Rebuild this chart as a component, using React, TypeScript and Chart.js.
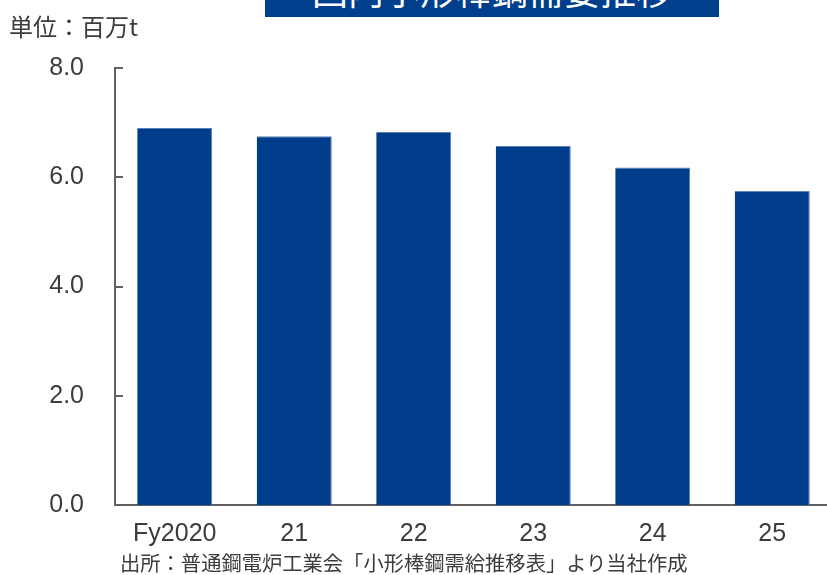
import React, { useEffect, useRef } from "react";
import { Chart, registerables } from "chart.js";

Chart.register(...registerables);

const categories = ["Fy2020", "21", "22", "23", "24", "25"];
const values = [6.9, 6.75, 6.83, 6.57, 6.18, 5.75];
const yTicks = [0, 2, 4, 6, 8];
const titleText = "国内小形棒鋼需要推移";
const unitText = "単位：百万t";
const sourceText = "出所：普通鋼電炉工業会「小形棒鋼需給推移表」より当社作成";

const BAR = "#003d8b";
const AXIS = "#606060";
const TEXT = "#3c3c3c";
const FONT = "'Liberation Sans', Arial, 'Noto Sans CJK JP', sans-serif";

const innerTicks = {
  id: "innerTicks",
  afterDatasetsDraw(chart: any) {
    const y = chart.scales.y;
    const ctx = chart.ctx;
    ctx.save();
    ctx.strokeStyle = AXIS;
    ctx.lineWidth = 2;
    yTicks.forEach((v) => {
      const py = Math.round(y.getPixelForValue(v));
      ctx.beginPath();
      ctx.moveTo(y.right, py);
      ctx.lineTo(y.right + 8, py);
      ctx.stroke();
    });
    ctx.restore();
  },
};

export default function App() {
  const ref = useRef<HTMLCanvasElement | null>(null);
  useEffect(() => {
    if (!ref.current) return;
    const chart = new Chart(ref.current, {
      type: "bar",
      data: {
        labels: categories,
        datasets: [
          {
            data: values,
            backgroundColor: BAR,
            borderColor: "#5d80b8",
            borderWidth: { top: 1, right: 1, left: 0, bottom: 0 } as any,
            categoryPercentage: 1,
            barPercentage: 0.628,
          },
        ],
      },
      options: {
        animation: false,
        responsive: false,
        maintainAspectRatio: false,
        layout: { padding: { top: 68, left: 0, right: 0, bottom: 0 } },
        plugins: { legend: { display: false }, tooltip: { enabled: false } },
        scales: {
          x: {
            grid: { display: false, drawTicks: false, tickLength: 0 },
            border: { display: true, color: AXIS, width: 2 },
            ticks: {
              color: TEXT,
              font: { family: FONT, size: 25 },
              padding: 14,
              maxRotation: 0,
              autoSkip: false,
            },
            afterFit: (s: any) => {
              s.height = 70;
            },
          },
          y: {
            min: 0,
            max: 8,
            grid: { display: false, drawTicks: false, tickLength: 0 },
            border: { display: true, color: AXIS, width: 2 },
            ticks: {
              stepSize: 2,
              color: TEXT,
              font: { family: FONT, size: 25 },
              padding: 31,
              callback: (v: any) => Number(v).toFixed(1),
            },
            afterFit: (s: any) => {
              s.width = 115;
            },
          },
        },
      },
      plugins: [innerTicks],
    });
    return () => chart.destroy();
  }, []);

  return (
    <div
      style={{
        position: "fixed",
        left: 0,
        top: 0,
        width: 827,
        height: 575,
        overflow: "hidden",
        background: "#fff",
      }}
    >
      <canvas
        ref={ref}
        width={832}
        height={575}
        style={{ position: "absolute", left: 0, top: 0, width: 832, height: 575 }}
      />
      <div
        style={{
          position: "absolute",
          left: 265,
          top: -30,
          width: 454,
          height: 47,
          background: "#003f8c",
          color: "#fff",
          fontFamily: "'Noto Sans CJK JP', sans-serif",
          fontSize: 36,
          lineHeight: "39px",
          textAlign: "center",
          whiteSpace: "nowrap",
          overflow: "hidden",
        }}
      >
        {titleText}
      </div>
      <div
        style={{
          position: "absolute",
          left: 9,
          top: 10,
          fontFamily: "'Noto Sans CJK JP', sans-serif",
          fontSize: 24,
          lineHeight: "32px",
          color: TEXT,
          whiteSpace: "nowrap",
        }}
      >
        {unitText}
      </div>
      <div
        style={{
          position: "absolute",
          left: 120,
          top: 549,
          fontFamily: "'Noto Sans CJK JP', sans-serif",
          fontSize: 20.3,
          lineHeight: "26px",
          color: TEXT,
          whiteSpace: "nowrap",
        }}
      >
        {sourceText}
      </div>
    </div>
  );
}
